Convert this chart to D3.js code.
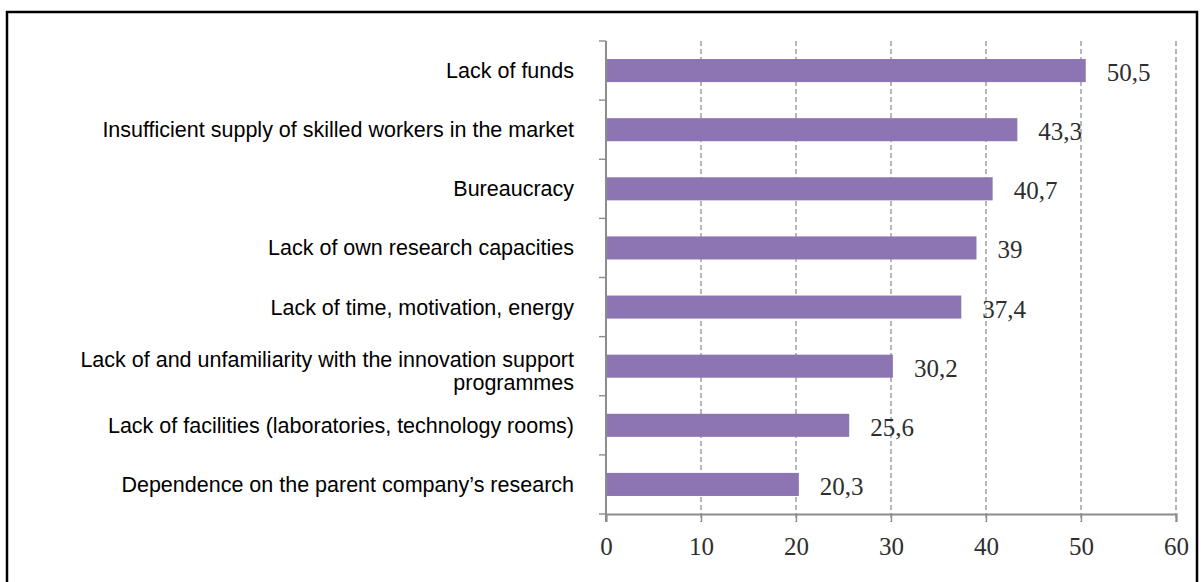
<!DOCTYPE html>
<html>
<head>
<meta charset="utf-8">
<script src="https://cdn.jsdelivr.net/npm/d3@7/dist/d3.min.js"></script>
<style>
  html, body { margin: 0; padding: 0; background: #fff; }
  svg { display: block; }
</style>
</head>
<body>
<svg id="chart" width="1201" height="582"></svg>
<script>
// Obstacles to innovation, share of respondents (%)
const categories = [
  "Lack of funds",
  "Insufficient supply of skilled workers in the market",
  "Bureaucracy",
  "Lack of own research capacities",
  "Lack of time, motivation, energy",
  "Lack of and unfamiliarity with the innovation support programmes",
  "Lack of facilities (laboratories, technology rooms)",
  "Dependence on the parent company\u2019s research"
];
const values = [50.5, 43.3, 40.7, 39, 37.4, 30.2, 25.6, 20.3];
const valueLabels = ["50,5", "43,3", "40,7", "39", "37,4", "30,2", "25,6", "20,3"];
// Labels that wrap onto two lines
const labelLines = [
  ["Lack of funds"],
  ["Insufficient supply of skilled workers in the market"],
  ["Bureaucracy"],
  ["Lack of own research capacities"],
  ["Lack of time, motivation, energy"],
  ["Lack of and unfamiliarity with the innovation support", "programmes"],
  ["Lack of facilities (laboratories, technology rooms)"],
  ["Dependence on the parent company\u2019s research"]
];
const xTicks = [0, 10, 20, 30, 40, 50, 60];

const svg = d3.select("#chart");

// Frame around the figure
svg.append("rect")
  .attr("x", 7).attr("y", 12)
  .attr("width", 1190).attr("height", 600)
  .attr("fill", "none")
  .attr("stroke", "#000")
  .attr("stroke-width", 2.5);

const plotLeft = 606, plotRight = 1176, plotTop = 41, plotBottom = 514;

const x = d3.scaleLinear().domain([0, 60]).range([plotLeft, plotRight]);
const y = d3.scaleBand()
  .domain(categories)
  .range([plotTop, plotBottom])
  .paddingInner(0.61)
  .paddingOuter(0.305);

const axisColor = "#8c8c8c";
const serif = "'Liberation Serif', 'DejaVu Serif', serif";

// Vertical dashed gridlines
svg.append("g")
  .selectAll("line")
  .data(xTicks.filter(d => d > 0))
  .join("line")
  .attr("x1", d => x(d)).attr("x2", d => x(d))
  .attr("y1", plotTop).attr("y2", plotBottom + 8)
  .attr("stroke", "#999")
  .attr("stroke-width", 1.4)
  .attr("stroke-dasharray", "5,3");

// Bars
svg.append("g")
  .selectAll("rect")
  .data(values)
  .join("rect")
  .attr("x", x(0))
  .attr("y", (d, i) => y(categories[i]))
  .attr("width", d => x(d) - x(0))
  .attr("height", y.bandwidth())
  .attr("fill", "#8d75b3");

// X axis with bottom ticks
const xAxis = d3.axisBottom(x)
  .tickValues(xTicks)
  .tickSize(8)
  .tickPadding(15)
  .tickFormat(d3.format("d"));
const gx = svg.append("g")
  .attr("transform", `translate(0,${plotBottom})`)
  .call(xAxis);
gx.select(".domain").attr("stroke", axisColor).attr("stroke-width", 2);
gx.selectAll(".tick line").attr("stroke", axisColor).attr("stroke-width", 1.4);
gx.selectAll(".tick text")
  .attr("font-family", serif)
  .attr("font-size", 25)
  .attr("fill", "#2e2e2e");

// Y axis line with separators between categories
const step = y.step();
const sepYs = d3.range(categories.length + 1).map(i => plotTop + i * step);
svg.append("line")
  .attr("x1", plotLeft).attr("x2", plotLeft)
  .attr("y1", plotTop).attr("y2", plotBottom + 8)
  .attr("stroke", axisColor).attr("stroke-width", 2);
svg.append("g")
  .selectAll("line")
  .data(sepYs)
  .join("line")
  .attr("x1", plotLeft - 7).attr("x2", plotLeft)
  .attr("y1", d => d).attr("y2", d => d)
  .attr("stroke", axisColor).attr("stroke-width", 1.4);

// Category labels
const labels = svg.append("g")
  .attr("font-family", "'Liberation Sans', Arial, sans-serif")
  .attr("font-size", 21.5)
  .attr("fill", "#000")
  .attr("text-anchor", "end");
labelLines.forEach((lines, i) => {
  const cy = y(categories[i]) + y.bandwidth() / 2;
  const lh = 23;
  const start = lines.length === 1 ? cy : cy - 7;
  lines.forEach((ln, j) => {
    labels.append("text")
      .attr("x", 574)
      .attr("y", start + j * lh)
      .attr("dy", "0.35em")
      .text(ln);
  });
});

// Value labels
svg.append("g")
  .selectAll("text")
  .data(values)
  .join("text")
  .attr("x", d => x(d) + 21)
  .attr("y", (d, i) => y(categories[i]) + y.bandwidth() / 2)
  .attr("dy", "0.42em")
  .attr("font-family", serif)
  .attr("font-size", 25)
  .attr("fill", "#2e2e2e")
  .text((d, i) => valueLabels[i]);
</script>
</body>
</html>
